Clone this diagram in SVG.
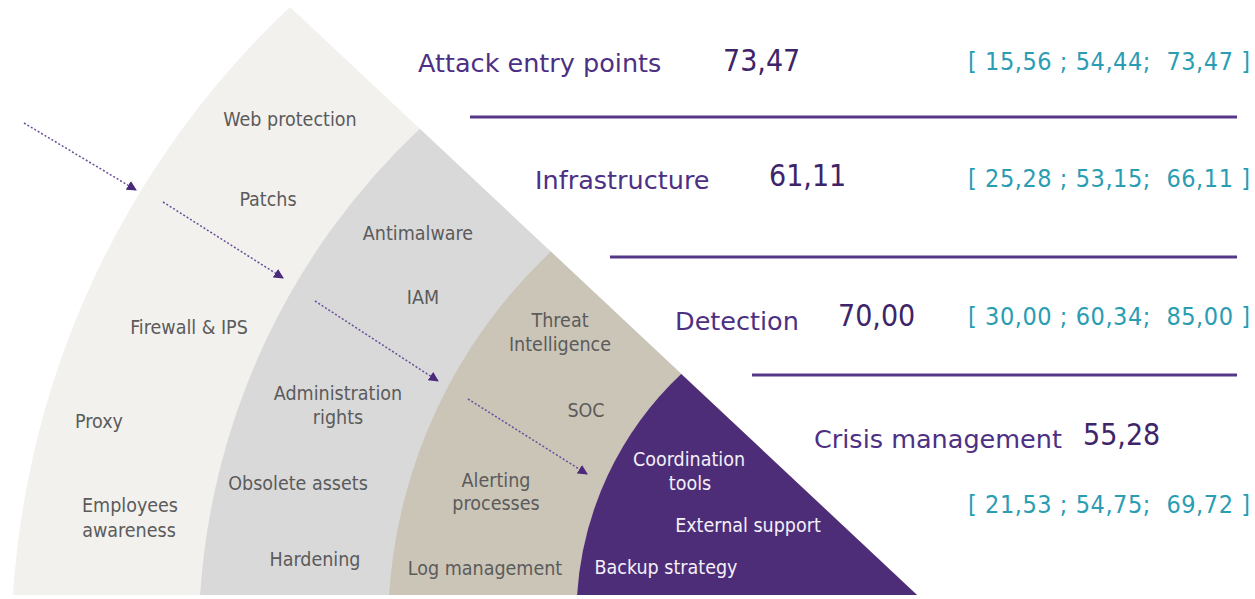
<svg xmlns="http://www.w3.org/2000/svg" width="1255" height="599" viewBox="0 0 1255 599">
<defs>
<style>
.lbl{font-family:'DejaVu Sans Condensed','DejaVu Sans',sans-serif;font-stretch:condensed;font-size:19.5px;fill:#5b5b5b;text-anchor:middle}
.wl{fill:#f4f0f8}
.ttl{font-family:'DejaVu Sans',sans-serif;font-size:25.5px;fill:#4d3083}
.num{font-family:'DejaVu Sans Condensed','DejaVu Sans',sans-serif;font-stretch:condensed;font-size:30px;fill:#3e2468}
.rng{font-family:'DejaVu Sans Condensed','DejaVu Sans',sans-serif;font-stretch:condensed;font-size:25px;fill:#2a9db3;white-space:pre}
.sep{stroke:#553887;stroke-width:3}
.arr{stroke:#6a4c9c;stroke-width:1.5;stroke-dasharray:2 2;fill:none;marker-end:url(#ah)}
</style>
<marker id="ah" viewBox="0 0 10 10" refX="9" refY="5" markerWidth="10" markerHeight="10" markerUnits="userSpaceOnUse" orient="auto">
<path d="M0,0 L10,5 L0,10 Z" fill="#4b2a7b"/>
</marker>
</defs>
<g id="band-attack-entry">
<path d="M13,595 A885.2,885.2 0 0 1 290,7 L917,595 Z" fill="#f2f1ee"/>
<text class="lbl" x="290" y="126">Web protection</text>
<text class="lbl" x="268" y="206">Patchs</text>
<text class="lbl" x="189" y="334">Firewall &amp; IPS</text>
<text class="lbl" x="99" y="428">Proxy</text>
<text class="lbl" x="130" y="512">Employees</text>
<text class="lbl" x="129" y="537">awareness</text>
</g>
<g id="band-infrastructure">
<path d="M200.1,595 A702,702 0 0 1 419.8,128.7 L917,595 Z" fill="#d9d9da"/>
<text class="lbl" x="418" y="240">Antimalware</text>
<text class="lbl" x="423" y="304">IAM</text>
<text class="lbl" x="338" y="400">Administration</text>
<text class="lbl" x="338" y="424">rights</text>
<text class="lbl" x="298" y="490">Obsolete assets</text>
<text class="lbl" x="315" y="566">Hardening</text>
</g>
<g id="band-detection">
<path d="M389.1,595 A517,517 0 0 1 550.8,251.6 L917,595 Z" fill="#cbc5b8"/>
<text class="lbl" x="560" y="327">Threat</text>
<text class="lbl" x="560" y="351">Intelligence</text>
<text class="lbl" x="586" y="417">SOC</text>
<text class="lbl" x="496" y="487">Alerting</text>
<text class="lbl" x="496" y="510">processes</text>
<text class="lbl" x="485" y="575">Log management</text>
</g>
<g id="band-crisis">
<path d="M577.1,595 A332.8,332.8 0 0 1 681.2,373.9 L917,595 Z" fill="#4e2d78"/>
<text class="lbl wl" x="689" y="466">Coordination</text>
<text class="lbl wl" x="690" y="490">tools</text>
<text class="lbl wl" x="748" y="532">External support</text>
<text class="lbl wl" x="666" y="574">Backup strategy</text>
</g>
<g id="connectors">
<line class="arr" x1="24" y1="123" x2="136" y2="190"/>
<line class="arr" x1="163" y1="202" x2="283" y2="278"/>
<line class="arr" x1="315" y1="301" x2="438" y2="381"/>
<line class="arr" x1="468" y1="399" x2="587" y2="474"/>
<line class="sep" x1="470" y1="117" x2="1237" y2="117"/>
<line class="sep" x1="610" y1="257" x2="1237" y2="257"/>
<line class="sep" x1="752" y1="375" x2="1237" y2="375"/>
</g>
<g id="score-attack-entry">
<text class="ttl" x="418" y="72">Attack entry points</text>
<text class="num" x="723" y="71">73,47</text>
<text class="rng" x="968" y="70" textLength="282" lengthAdjust="spacing">[ 15,56 ; 54,44;  73,47 ]</text>
</g>
<g id="score-infrastructure">
<text class="ttl" x="535" y="189">Infrastructure</text>
<text class="num" x="769" y="186">61,11</text>
<text class="rng" x="968" y="187" textLength="282" lengthAdjust="spacing">[ 25,28 ; 53,15;  66,11 ]</text>
</g>
<g id="score-detection">
<text class="ttl" x="675" y="330">Detection</text>
<text class="num" x="838" y="326">70,00</text>
<text class="rng" x="968" y="325" textLength="282" lengthAdjust="spacing">[ 30,00 ; 60,34;  85,00 ]</text>
</g>
<g id="score-crisis">
<text class="ttl" x="814" y="448">Crisis management</text>
<text class="num" x="1083" y="445">55,28</text>
<text class="rng" x="968" y="513" textLength="282" lengthAdjust="spacing">[ 21,53 ; 54,75;  69,72 ]</text>
</g>
</svg>
